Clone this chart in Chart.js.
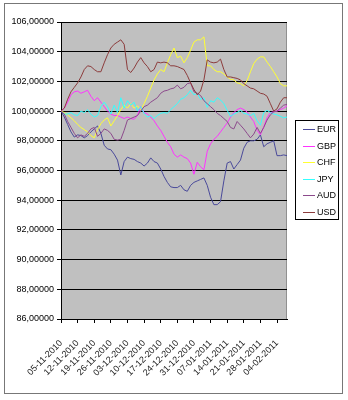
<!DOCTYPE html>
<html><head><meta charset="utf-8">
<script src="https://cdn.jsdelivr.net/npm/chart.js@4"></script>
<style>html,body{margin:0;padding:0;background:#fff}#wrap{width:348px;height:400px;position:relative}</style>
</head><body><div id="wrap"><canvas id="c" width="348" height="400"></canvas></div>
<script>
const dates = [
 '05-11-2010','08-11-2010','09-11-2010','10-11-2010','11-11-2010','12-11-2010',
 '15-11-2010','16-11-2010','17-11-2010','18-11-2010','19-11-2010',
 '22-11-2010','23-11-2010','24-11-2010','25-11-2010','26-11-2010',
 '29-11-2010','30-11-2010','01-12-2010','02-12-2010','03-12-2010',
 '06-12-2010','07-12-2010','08-12-2010','09-12-2010','10-12-2010',
 '13-12-2010','14-12-2010','15-12-2010','16-12-2010','17-12-2010',
 '20-12-2010','21-12-2010','22-12-2010','23-12-2010','24-12-2010',
 '27-12-2010','28-12-2010','29-12-2010','30-12-2010','31-12-2010',
 '03-01-2011','04-01-2011','05-01-2011','06-01-2011','07-01-2011',
 '10-01-2011','11-01-2011','12-01-2011','13-01-2011','14-01-2011',
 '17-01-2011','18-01-2011','19-01-2011','20-01-2011','21-01-2011',
 '24-01-2011','25-01-2011','26-01-2011','27-01-2011','28-01-2011',
 '31-01-2011','01-02-2011','02-02-2011','03-02-2011','04-02-2011',
 '07-02-2011','08-02-2011','09-02-2011'
];
const labelEvery = 5;
const seriesNames = ['EUR','GBP','CHF','JPY','AUD','USD'];
const seriesColors = ['#4a4a9a','#ff33ff','#ffff33','#33ffff','#8c4a8c','#8c3c3c'];

const eur = [100.0,99.6,99.1,98.6,98.25,98.4,98.35,98.2,98.35,98.6,
 98.8,99.0,98.5,97.7,97.45,97.4,97.1,96.7,95.7,96.6,
 96.9,96.8,96.75,96.6,96.5,96.3,96.5,96.85,96.6,96.5,
 96.1,95.6,95.2,94.9,94.85,94.85,95.0,94.7,94.6,95.0,
 95.2,95.3,95.4,95.5,95.0,94.2,93.7,93.7,93.9,95.3,
 96.5,96.6,96.1,96.4,96.7,97.5,97.9,98.0,98.0,98.1,
 98.4,97.6,97.8,97.9,98.0,97.0,97.0,97.05,97.0];
const gbp = [100.0,100.2,100.6,101.1,101.3,101.35,101.2,101.3,101.4,101.0,
 100.7,100.9,100.6,100.3,100.0,99.8,99.7,99.7,99.6,99.5,
 99.6,99.5,99.45,99.7,100.3,99.9,99.8,99.6,99.35,99.0,
 98.7,98.3,97.9,97.6,97.1,96.9,97.05,96.9,96.8,96.5,
 95.75,96.55,96.25,96.05,97.3,97.8,98.1,98.3,98.6,98.9,
 99.2,99.6,99.9,100.1,100.2,100.1,99.95,99.6,99.3,98.7,
 98.4,98.95,99.55,99.9,99.95,100.0,100.1,100.2,100.35];
const chf = [100.0,99.9,99.75,99.55,99.35,99.1,98.9,98.75,98.6,98.35,
 98.2,98.75,99.15,99.4,99.55,99.0,99.35,99.7,100.1,100.4,
 100.2,100.5,100.2,100.35,100.1,100.5,101.0,101.55,102.1,102.5,
 102.8,102.65,103.25,103.8,104.25,103.6,103.7,103.25,103.6,104.1,
 104.65,104.8,104.8,105.0,103.05,103.05,102.8,102.65,102.65,102.5,
 102.3,102.15,102.1,101.9,101.85,101.7,102.05,102.65,103.2,103.5,
 103.65,103.65,103.3,103.0,102.65,102.3,101.85,101.7,101.7];
const jpy = [100.0,99.8,99.8,99.9,99.75,99.7,100.0,99.9,100.1,99.8,
 99.6,99.7,100.3,100.6,100.3,99.8,100.4,99.9,100.9,100.2,
 100.7,100.4,100.6,100.0,100.3,99.85,99.6,99.7,99.5,99.7,
 99.85,99.9,99.85,100.1,100.3,100.5,100.8,100.9,101.1,101.4,
 101.1,101.2,100.8,100.9,100.25,100.7,100.6,100.9,100.75,100.5,
 100.05,99.65,99.8,99.9,100.05,99.85,99.8,99.7,99.85,99.35,
 99.05,99.9,100.05,99.9,99.8,99.75,99.65,99.55,99.6];
const aud = [100.0,99.8,99.3,98.9,98.5,98.2,98.4,98.3,98.5,98.8,
 98.9,98.3,98.5,98.8,98.7,98.5,98.1,98.05,98.1,98.7,
 99.4,99.5,99.6,99.7,100.0,100.3,100.4,100.6,100.75,100.9,
 101.2,101.35,101.4,101.5,101.55,101.75,101.5,101.6,101.85,101.9,
 101.3,101.2,101.05,100.7,100.5,100.3,100.1,99.85,99.7,99.5,
 99.3,98.9,98.8,99.3,99.05,98.8,98.5,98.2,98.45,98.9,
 98.5,98.9,99.4,99.75,99.95,100.0,100.2,100.4,100.45];
const usd = [100.0,100.2,100.8,101.3,101.6,101.9,102.3,102.8,103.05,103.0,
 102.8,102.65,102.65,103.25,103.8,104.25,104.5,104.65,104.8,104.5,
 102.8,102.6,102.9,103.3,103.6,103.25,103.0,102.65,102.8,103.3,
 103.25,103.3,103.25,103.05,103.05,103.0,102.9,102.8,102.4,101.9,
 101.45,101.1,101.35,102.1,103.45,103.3,103.25,103.3,103.5,102.8,
 102.3,102.3,102.25,102.2,102.1,101.85,101.7,101.55,101.5,101.35,
 101.2,101.15,101.0,100.5,100.0,100.15,100.6,100.9,100.9];
const seriesValues = [eur,gbp,chf,jpy,aud,usd];
const yMin = 86, yMax = 106, yStep = 2;

const FONT = '"Liberation Sans", Arial, sans-serif';

const framePlugin = {
  id:'frame',
  beforeDraw(chart){
    const ctx = chart.ctx, a = chart.chartArea;
    ctx.save();
    ctx.fillStyle = '#fff';
    ctx.fillRect(0,0,chart.width,chart.height);
    ctx.strokeStyle = '#777';
    ctx.lineWidth = 1;
    ctx.strokeRect(4.5,3.5,338,390);
    ctx.fillStyle = '#c0c0c0';
    ctx.fillRect(a.left,a.top,a.right-a.left,a.bottom-a.top);
    ctx.strokeStyle = '#909090';
    ctx.strokeRect(a.left+0.5,a.top+0.5,a.right-a.left-1,a.bottom-a.top);
    ctx.restore();
  }
};
const legendPlugin = {
  id:'boxLegend',
  afterDraw(chart){
    const ctx = chart.ctx;
    ctx.save();
    ctx.fillStyle = '#fff';
    ctx.fillRect(295.5,120.5,43,99);
    ctx.strokeStyle = '#000';
    ctx.lineWidth = 1;
    ctx.strokeRect(295.5,120.5,43,99);
    ctx.font = '9px ' + FONT;
    ctx.textBaseline = 'middle';
    chart.data.datasets.forEach((ds,i)=>{
      const y = Math.round(129 + i*16.6) + 0.5;
      ctx.strokeStyle = ds.borderColor;
      ctx.beginPath(); ctx.moveTo(303,y); ctx.lineTo(315,y); ctx.stroke();
      ctx.fillStyle = '#000';
      ctx.fillText(ds.label,317,y);
    });
    ctx.restore();
  }
};

new Chart(document.getElementById('c'), {
  type:'line',
  data:{
    labels: dates,
    datasets: seriesNames.map((n,i)=>({
      label:n, data:seriesValues[i], borderColor:seriesColors[i],
      backgroundColor:seriesColors[i], borderWidth:1, pointRadius:0,
      tension:0, fill:false, order: seriesNames.length - i
    }))
  },
  options:{
    responsive:false, animation:false, devicePixelRatio:1,
    layout:{padding:{left:0,top:22,right:61,bottom:0}},
    plugins:{legend:{display:false}, tooltip:{enabled:false}},
    scales:{
      y:{
        min:yMin, max:yMax,
        ticks:{stepSize:yStep, color:'#000', padding:3, font:{family:FONT,size:9},
          callback:v=>Number(v).toFixed(5).replace('.',',')},
        grid:{color:'#000', lineWidth:1, tickLength:4, tickColor:'#000'},
        border:{color:'#000'},
        afterFit:s=>{s.width=61;}
      },
      x:{
        type:'category',
        ticks:{autoSkip:false, minRotation:45, maxRotation:45, color:'#222', padding:15,
          font:{family:FONT,size:9},
          callback:(v,i)=> i%labelEvery===0 ? dates[i] : ''},
        grid:{drawOnChartArea:false, tickLength:4,
          color:c=> (c.index%labelEvery===0 ? '#000' : 'rgba(0,0,0,0)')},
        border:{color:'#000'},
        afterFit:s=>{s.height=81;}
      }
    }
  },
  plugins:[framePlugin, legendPlugin]
});
</script>
</body></html>
